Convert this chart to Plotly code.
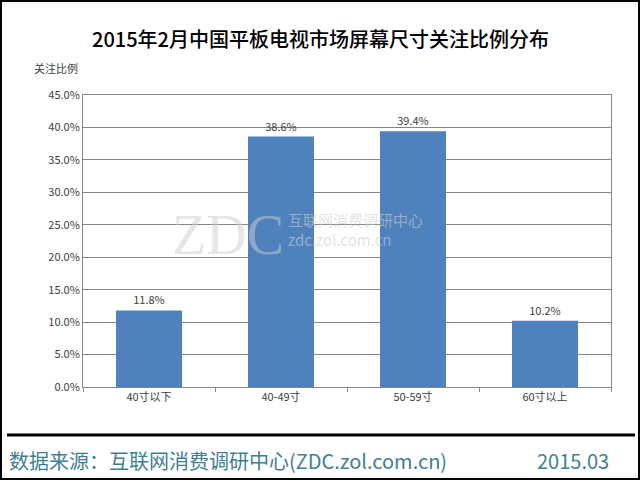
import plotly.graph_objects as go

categories = ["40寸以下", "40-49寸", "50-59寸", "60寸以上"]
shares = [11.8, 38.6, 39.4, 10.2]
y_ticks = [0, 5, 10, 15, 20, 25, 30, 35, 40, 45]
y_tick_labels = ["%.1f%%" % v for v in y_ticks]

font_cn = "Noto Sans CJK SC"
bar_color = "#4F81BD"

fig = go.Figure(go.Bar(
    x=categories,
    y=shares,
    marker_color=bar_color,
    marker_line_width=0,
    text=["%.1f%%" % v for v in shares],
    textposition="outside",
    textfont=dict(size=11, color="#404040", family=font_cn),
    cliponaxis=False,
))

fig.update_layout(
    width=640,
    height=480,
    margin=dict(l=83, r=29, t=95, b=93),
    paper_bgcolor="white",
    plot_bgcolor="white",
    bargap=0.5,
    showlegend=False,
    font=dict(family=font_cn, color="#404040"),
    xaxis=dict(
        showline=True, linecolor="#868686", linewidth=1,
        ticks="outside", ticklen=4, tickcolor="#868686",
        tickson="boundaries",
        tickfont=dict(size=11, color="#404040"),
        mirror=True,
    ),
    yaxis=dict(
        range=[0, 45],
        tickvals=y_ticks,
        ticktext=y_tick_labels,
        tickfont=dict(size=11, color="#404040"),
        showgrid=True, gridcolor="#868686", gridwidth=1,
        showline=True, linecolor="#868686", linewidth=1, mirror=True,
        zeroline=False,
        ticks="",
    ),
)

# title, axis caption, footer
fig.add_annotation(text="2015年2月中国平板电视市场屏幕尺寸关注比例分布",
                   xref="paper", yref="paper", x=0.5, y=1,
                   xanchor="center", yanchor="middle",
                   xshift=-27, yshift=(95 - 38), showarrow=False,
                   font=dict(size=20, color="black", family=font_cn,
                             weight=500))
fig.add_annotation(text="关注比例", xref="paper", yref="paper",
                   x=0, y=1, xanchor="center", yanchor="middle",
                   xshift=-27, yshift=(95 - 68), showarrow=False,
                   font=dict(size=11, color="#404040"))
fig.add_annotation(text="数据来源：互联网消费调研中心(ZDC.zol.com.cn)",
                   xref="paper", yref="paper", x=0, y=0,
                   xanchor="left", yanchor="middle",
                   xshift=-76, yshift=-(460 - 387), showarrow=False,
                   font=dict(size=20, color="#3E8091"))
fig.add_annotation(text="2015.03",
                   xref="paper", yref="paper", x=1, y=0,
                   xanchor="right", yanchor="middle",
                   xshift=0, yshift=-(460 - 387), showarrow=False,
                   font=dict(size=20, color="#3E8091"))

# watermark
fig.add_annotation(text="ZDC", xref="paper", yref="paper", x=0.165, y=0.52,
                   xanchor="left", yanchor="middle", showarrow=False,
                   font=dict(size=56, color="rgba(205,205,205,0.5)",
                             family="Liberation Serif"))
fig.add_annotation(text="互联网消费调研中心<br>zdc.zol.com.cn",
                   xref="paper", yref="paper", x=0.385, y=0.54,
                   xanchor="left", yanchor="middle", align="left",
                   showarrow=False,
                   font=dict(size=15, color="rgba(205,205,205,0.6)"))

# separator line and outer frame
fig.add_shape(type="line", xref="paper", yref="paper",
              x0=-76 / 528, x1=1 + 24 / 528, y0=-(435 - 387) / 292,
              y1=-(435 - 387) / 292, line=dict(color="black", width=3))
fig.add_shape(type="rect", xref="paper", yref="paper",
              x0=-82 / 528, x1=1 + 28 / 528, y0=-92 / 292, y1=1 + 94 / 292,
              line=dict(color="black", width=2))

fig.write_html("out.html", config={"displayModeBar": False},
               post_script="document.body.style.margin='0';")
